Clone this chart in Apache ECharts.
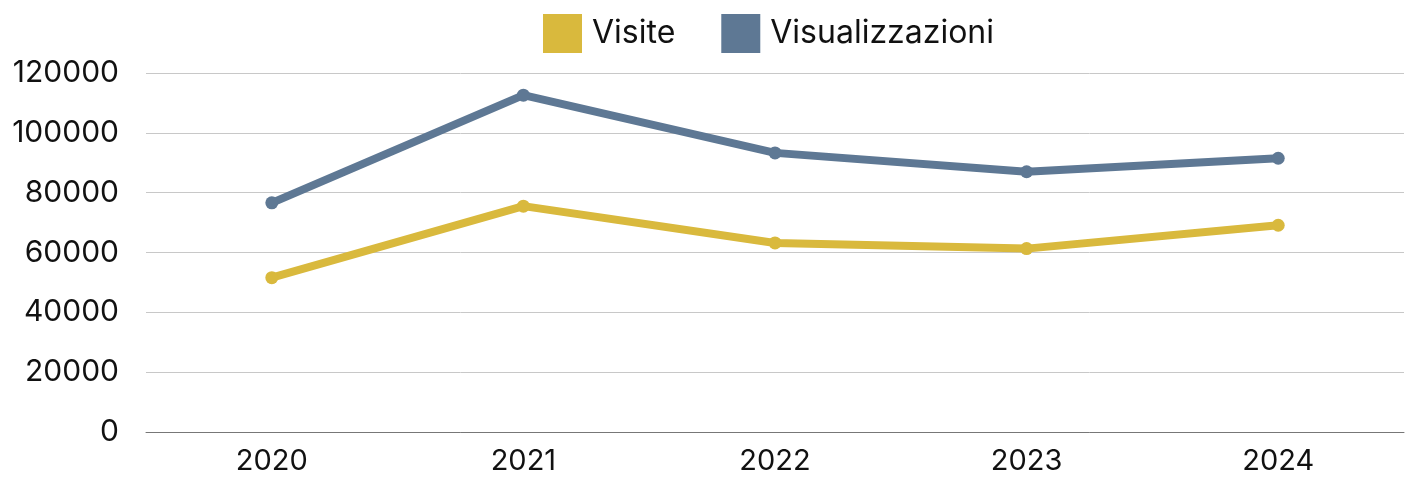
<!DOCTYPE html>
<html>
<head>
<meta charset="utf-8">
<script src="https://cdn.jsdelivr.net/npm/echarts@6/dist/echarts.min.js"></script>
<style>
  html, body { margin: 0; padding: 0; background: #fff; }
  #chart { width: 1412px; height: 479px; }
</style>
</head>
<body>
<div id="chart"></div>
<script>
const years = ['2020', '2021', '2022', '2023', '2024'];
const visite = [51600, 75500, 63200, 61300, 69100];
const visualizzazioni = [76600, 112600, 93300, 87000, 91500];
const yTicks = { min: 0, max: 120000, interval: 20000 };

const FONT = 'Inter';
const chart = echarts.init(document.getElementById('chart'));

function lineSeries(name, data, color) {
  return {
    name: name,
    type: 'line',
    data: data,
    symbol: 'circle',
    symbolSize: 13,
    lineStyle: { width: 8, color: color },
    itemStyle: { color: color },
    emphasis: { disabled: true },
    animation: false
  };
}

chart.setOption({
  animation: false,
  legend: {
    top: 9,
    left: 538,
    itemWidth: 39,
    itemHeight: 39,
    itemGap: 46,
    icon: 'rect',
    textStyle: { fontFamily: FONT, fontSize: 32, color: '#111', padding: [0, 0, 0, 5] },
    data: ['Visite', 'Visualizzazioni']
  },
  grid: { left: 146, right: 8, top: 73, bottom: 47, containLabel: false },
  xAxis: {
    type: 'category',
    data: years,
    boundaryGap: true,
    axisLine: { lineStyle: { color: '#777', width: 1 } },
    axisTick: { show: false },
    axisLabel: { fontFamily: FONT, fontSize: 29, color: '#111', margin: 15 }
  },
  yAxis: {
    type: 'value',
    min: yTicks.min,
    max: yTicks.max,
    interval: yTicks.interval,
    axisLine: { show: false },
    axisTick: { show: false },
    splitLine: { lineStyle: { color: '#c8c8c8', width: 1 } },
    axisLabel: {
      fontFamily: FONT, fontSize: 30, color: '#111', margin: 27,
      formatter: function (v) { return String(v); }
    }
  },
  series: [
    lineSeries('Visite', visite, '#D9B93D'),
    lineSeries('Visualizzazioni', visualizzazioni, '#5E7894')
  ]
});
</script>
</body>
</html>
